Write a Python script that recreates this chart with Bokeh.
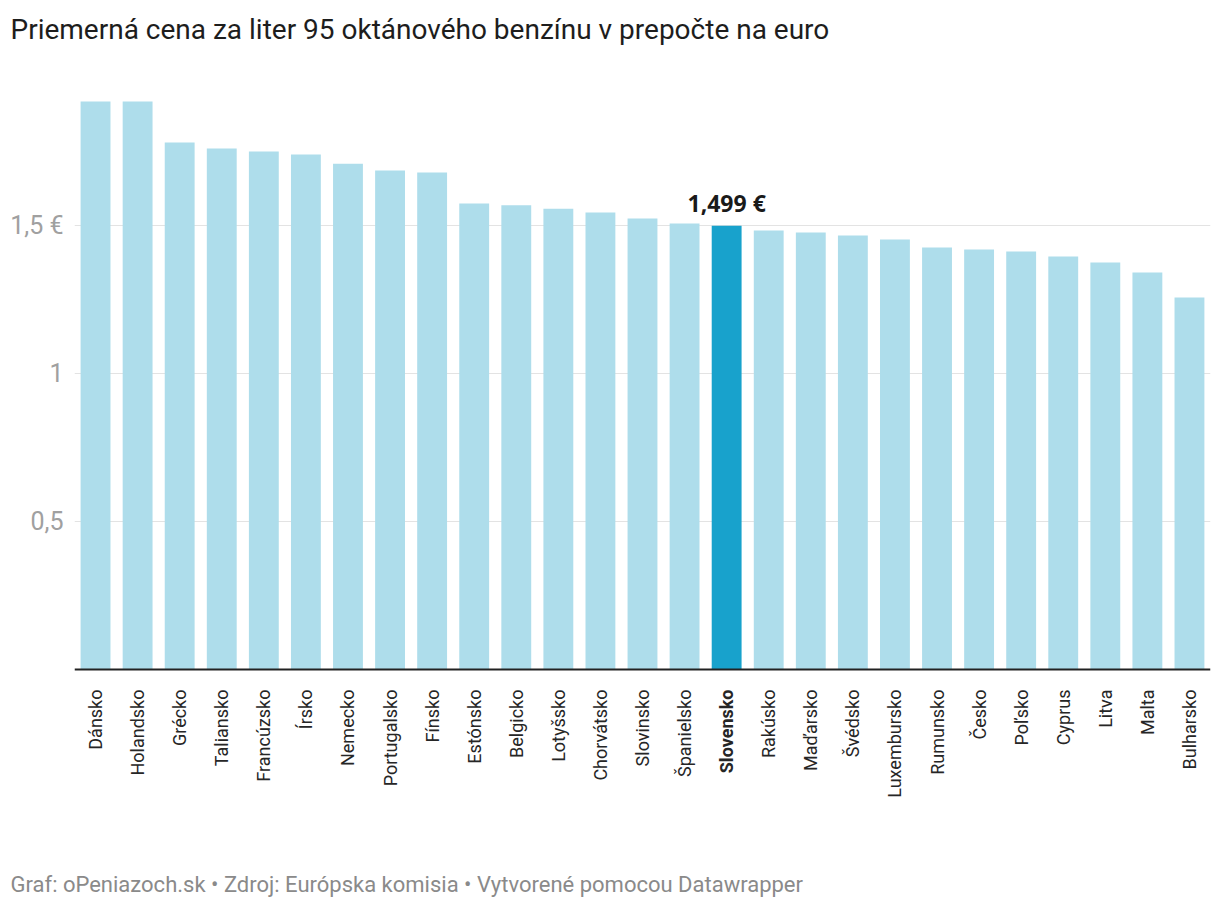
from math import pi
from bokeh.plotting import figure
from bokeh.models import (ColumnDataSource, FactorRange, Range1d, FixedTicker,
                          LabelSet, Span, Title)
from bokeh.core.properties import value, field
from bokeh.embed import file_html
from bokeh.resources import INLINE

# ---- data ----
countries = ["Dánsko", "Holandsko", "Grécko", "Taliansko", "Francúzsko", "Írsko",
             "Nemecko", "Portugalsko", "Fínsko", "Estónsko", "Belgicko", "Lotyšsko",
             "Chorvátsko", "Slovinsko", "Španielsko", "Slovensko", "Rakúsko",
             "Maďarsko", "Švédsko", "Luxembursko", "Rumunsko", "Česko", "Poľsko",
             "Cyprus", "Litva", "Malta", "Bulharsko"]
prices = [1.919, 1.919, 1.780, 1.760, 1.750, 1.740, 1.709, 1.686, 1.679, 1.574,
          1.568, 1.557, 1.544, 1.524, 1.507, 1.499, 1.483, 1.476, 1.466, 1.453,
          1.426, 1.419, 1.412, 1.395, 1.375, 1.341, 1.257]
highlight = "Slovensko"
y_ticks = [0.5, 1.0, 1.5]
y_tick_labels = {0.5: "0,5", 1.0: "1", 1.5: "1,5 €"}

title_text = "Priemerná cena za liter 95 oktánového benzínu v prepočte na euro"
footer_text = "Graf: oPeniazoch.sk • Zdroj: Európska komisia • Vytvorené pomocou Datawrapper"

LIGHT = "#aeddeb"
DARK = "#18a2cc"

colors = [DARK if c == highlight else LIGHT for c in countries]
styles = ["bold" if c == highlight else "normal" for c in countries]
zeros = [0] * len(countries)

src = ColumnDataSource(dict(country=countries, price=prices, color=colors,
                            style=styles, zero=zeros))

TOP = 55        # frame top (px)
BOTTOM = 862    # frame bottom (px)
ZERO = 669      # pixel of value 0
PX_PER_UNIT = 296
H = 910

p = figure(width=1218, height=H, output_backend="svg", toolbar_location=None,
           x_range=FactorRange(*countries, range_padding=0),
           y_range=Range1d(-(BOTTOM - ZERO) / PX_PER_UNIT, (ZERO - TOP) / PX_PER_UNIT),
           min_border_left=74, min_border_right=8, min_border_top=TOP,
           min_border_bottom=H - BOTTOM)
p.outline_line_color = None
p.background_fill_color = "white"
p.border_fill_color = "white"

p.vbar(x="country", top="price", width=0.71, color="color", source=src, line_color=None)

# y axis
p.yaxis.ticker = FixedTicker(ticks=y_ticks)
p.yaxis.major_label_overrides = y_tick_labels
p.yaxis.axis_line_color = None
p.yaxis.major_tick_line_color = None
p.yaxis.minor_tick_line_color = None
p.yaxis.major_label_standoff = 5
p.yaxis.major_label_text_font = "Roboto"
p.yaxis.major_label_text_font_size = "25px"
p.yaxis.major_label_text_color = "#a0a0a0"

p.ygrid.ticker = FixedTicker(ticks=y_ticks)
p.ygrid.grid_line_color = "#e3e3e3"
p.ygrid.grid_line_width = 1
p.xgrid.grid_line_color = None
p.xaxis.visible = False

# baseline
p.add_layout(Span(location=0, dimension="width", line_color="#222222", line_width=2))

labels = LabelSet(x="country", y="zero", text="country", source=src,
                  angle=pi / 2, text_align="right", text_baseline="middle",
                  y_offset=-20, text_font=value("Roboto"), text_font_size="18px",
                  text_color="#262626", text_font_style=field("style"))
p.add_layout(labels)

# value annotation for highlighted bar
hi = countries.index(highlight)
hi_src = ColumnDataSource(dict(country=[highlight], price=[prices[hi]],
                               txt=[("%.3f €" % prices[hi]).replace(".", ",")]))
p.add_layout(LabelSet(x="country", y="price", text="txt", source=hi_src,
                      text_align="center", text_baseline="alphabetic", y_offset=14,
                      text_font=value("Open Sans"), text_font_size="23px",
                      text_font_style="bold", text_color="#1a1a1a"))

# title and footer
p.add_layout(Title(text=title_text, align="left", offset=-64, standoff=19,
                   text_font="Roboto", text_font_size="28px", text_font_style="normal",
                   text_color="#1d1d1d"), "above")
p.add_layout(Title(text=footer_text, align="left", offset=-64, standoff=19,
                   vertical_align="top",
                   text_font="Roboto", text_font_size="22px", text_font_style="normal",
                   text_color="#8a8a8a"), "below")

open("out.html", "w").write(file_html(p, INLINE))
